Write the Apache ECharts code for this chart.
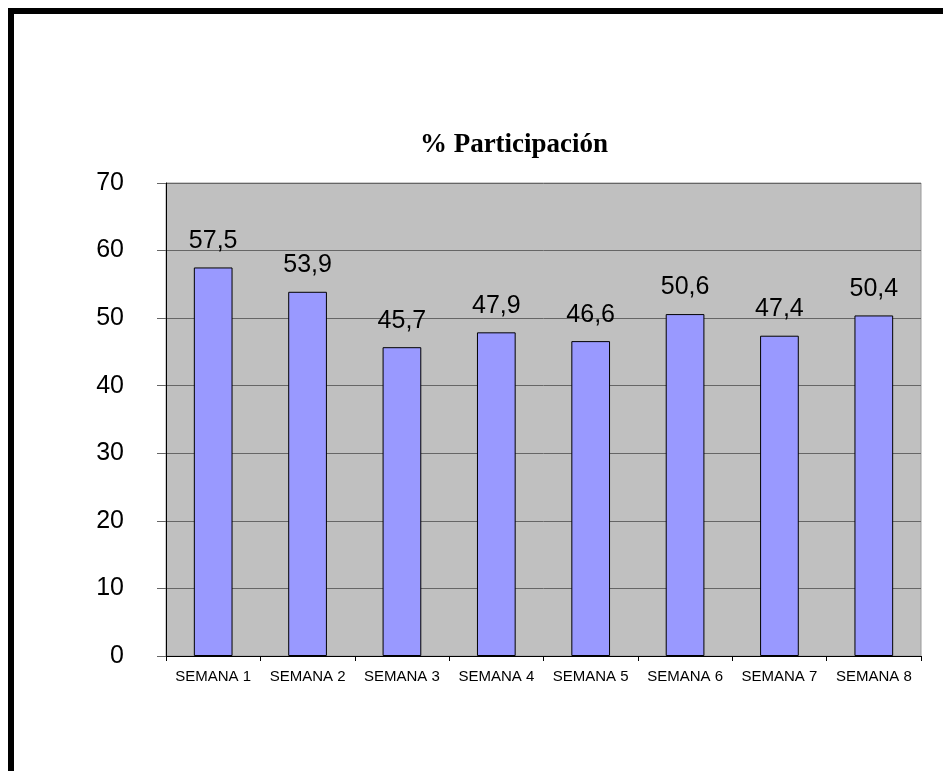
<!DOCTYPE html>
<html>
<head>
<meta charset="utf-8">
<script src="https://cdn.jsdelivr.net/npm/echarts@6/dist/echarts.min.js"></script>
<style>
html,body{margin:0;padding:0;background:#fff;}
#chart{width:943px;height:771px;}
</style>
</head>
<body>
<div id="chart"></div>
<script>
const titleText = '% Participación';
const categories = ['SEMANA 1','SEMANA 2','SEMANA 3','SEMANA 4','SEMANA 5','SEMANA 6','SEMANA 7','SEMANA 8'];
const values = [57.5, 53.9, 45.7, 47.9, 46.6, 50.6, 47.4, 50.4];
const yTicks = [0, 10, 20, 30, 40, 50, 60, 70];

const chart = echarts.init(document.getElementById('chart'), null, {renderer:'canvas'});
chart.setOption({
  animation: false,
  backgroundColor: '#ffffff',
  graphic: [
    {type:'rect', left:8, top:8, shape:{width:6, height:763}, style:{fill:'#000'}},
    {type:'rect', left:8, top:8, shape:{width:935, height:6}, style:{fill:'#000'}}
  ],
  title: {
    text: titleText,
    left: 509,
    textAlign: 'center',
    top: 127,
    textStyle: {fontFamily:'"Liberation Serif","Times New Roman",serif', fontWeight:'bold', fontSize:27, color:'#000'}
  },
  grid: {
    left: 166, right: 22, top: 183, bottom: 115,
    show: true, backgroundColor: '#C0C0C0', borderColor: '#9a9a9a', borderWidth: 1
  },
  xAxis: {
    type: 'category',
    data: categories,
    boundaryGap: true,
    axisLine: {lineStyle:{color:'#000', width:1}},
    axisTick: {show:true, alignWithLabel:false, length:5, lineStyle:{color:'#000'}},
    axisLabel: {fontFamily:'"Liberation Sans",Arial,sans-serif', fontSize:15, color:'#000', margin:13, interval:0}
  },
  yAxis: {
    type: 'value',
    min: yTicks[0], max: yTicks[yTicks.length-1], interval: 10,
    axisLine: {show:true, lineStyle:{color:'#000', width:1}},
    axisTick: {show:true, length:9, lineStyle:{color:'#666'}},
    axisLabel: {fontFamily:'"Liberation Sans",Arial,sans-serif', fontSize:25, color:'#000', margin:42},
    splitLine: {show:true, lineStyle:{color:'#666', width:1}}
  },
  series: [{
    type: 'bar',
    data: values,
    barWidth: '41%',
    itemStyle: {color:'#9999FF', borderColor:'#000', borderWidth:1},
    label: {
      show: true, position: 'top', distance: 14,
      fontFamily:'"Liberation Sans",Arial,sans-serif', fontSize:25, color:'#000',
      formatter: p => String(p.value).replace('.', ',')
    }
  }]
});
</script>
</body>
</html>
